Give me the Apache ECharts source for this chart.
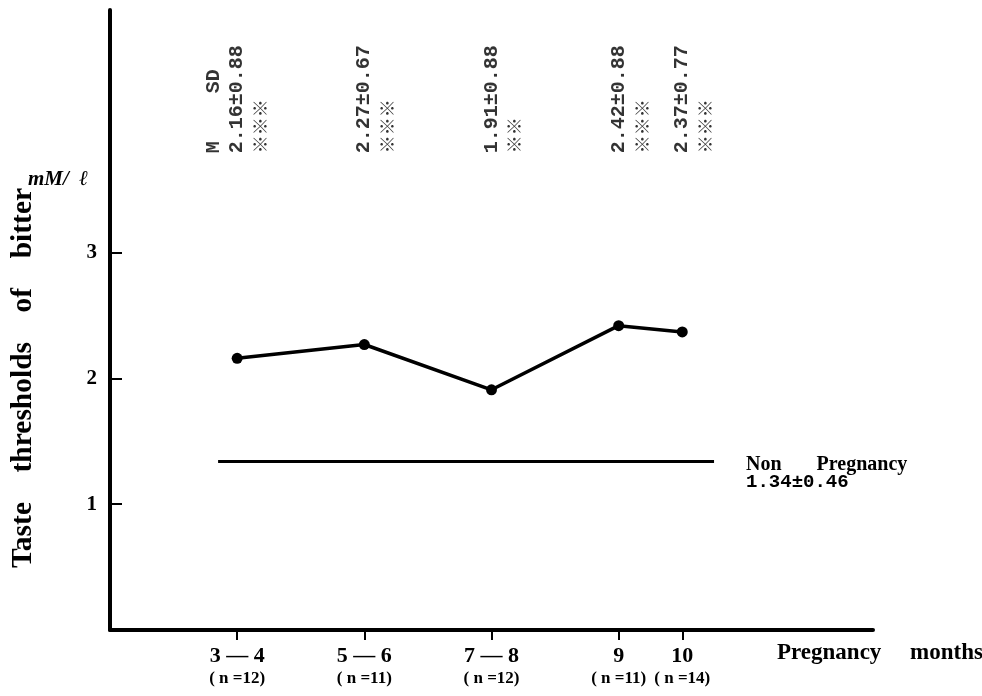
<!DOCTYPE html>
<html>
<head>
<meta charset="utf-8">
<script src="https://cdn.jsdelivr.net/npm/echarts@6/dist/echarts.min.js"></script>
<style>html,body{margin:0;padding:0;background:#fff;}#c{width:982px;height:696px;}</style>
</head>
<body>
<div id="c"></div>
<script>
// ---- data ----
var monthLabels = ['3 — 4', '5 — 6', '7 — 8', '9', '10'];
var monthPos = [3.5, 5.5, 7.5, 9.5, 10.5];
var sampleN = [12, 11, 12, 11, 14];
var meanValues = [2.16, 2.27, 1.91, 2.42, 2.37];
var sdValues = [0.88, 0.67, 0.88, 0.88, 0.77];
var sigMarks = ['※※※', '※※※', '※※', '※※※', '※※※'];
var nonPregMean = 1.34;
var nonPregSD = 0.46;
var yTicks = [1, 2, 3];

var serif = '"Liberation Serif", "DejaVu Serif", serif';
var mono = '"Liberation Mono", "Noto Sans CJK JP", monospace';

var chart = echarts.init(document.getElementById('c'), null, {renderer: 'canvas'});

var lineData = monthPos.map(function (x, i) { return [x, meanValues[i]]; });
var annotData = monthPos.map(function (x, i) { return [x, 3.79, i]; });

var option = {
  animation: false,
  backgroundColor: '#fff',
  grid: {left: 110, right: 109, top: 10, bottom: 66, containLabel: false},
  xAxis: {
    type: 'value', min: 1.5, max: 13.5,
    splitLine: {show: false},
    axisLine: {show: true, onZero: false, lineStyle: {color: '#000', width: 4}},
    axisTick: {show: true, inside: false, length: 10, lineStyle: {color: '#000', width: 2}, customValues: monthPos},
    axisLabel: {
      show: true, margin: 14, customValues: monthPos,
      formatter: function (v) {
        var i = monthPos.indexOf(v);
        if (i < 0) return '';
        return '{m|' + monthLabels[i] + '}\n{n|( n =' + sampleN[i] + ')}';
      },
      rich: {
        m: {fontFamily: serif, fontWeight: 'bold', fontSize: 22, lineHeight: 24, color: '#000'},
        n: {fontFamily: serif, fontWeight: 'bold', fontSize: 17, lineHeight: 22, color: '#000'}
      }
    }
  },
  yAxis: {
    type: 'value', min: 0, max: 4.93,
    splitLine: {show: false},
    axisLine: {show: true, lineStyle: {color: '#000', width: 4}},
    axisTick: {show: true, inside: true, length: 12, lineStyle: {color: '#000', width: 2}, customValues: yTicks},
    axisLabel: {show: true, margin: 13, customValues: yTicks, fontFamily: serif, fontWeight: 'bold', fontSize: 21, color: '#000'}
  },
  graphic: [
    {type: 'text', x: 23, y: 378, rotation: Math.PI / 2,
     style: {text: 'Taste    thresholds    of    bitter', font: 'bold 29.5px ' + serif, fill: '#000', align: 'center', verticalAlign: 'middle'}},
    {type: 'text', x: 28, y: 180,
     style: {text: 'mM/  ℓ', font: 'italic bold 21px ' + serif, fill: '#000', align: 'left', verticalAlign: 'middle'}},
    {type: 'text', x: 777, y: 653,
     style: {text: 'Pregnancy     months', font: 'bold 23px ' + serif, fill: '#000', align: 'left', verticalAlign: 'middle'}}
  ],
  series: [
    {
      type: 'line', data: lineData,
      symbol: 'circle', symbolSize: 11,
      lineStyle: {color: '#000', width: 3.5},
      itemStyle: {color: '#000'},
      z: 5,
      markLine: {
        silent: true, symbol: 'none',
        lineStyle: {color: '#000', width: 3, type: 'solid'},
        label: {
          show: true, position: 'end', distance: 32,
          padding: [24, 0, 0, 0],
          formatter: function () { return '{t|Non       Pregnancy}\n{v|' + nonPregMean.toFixed(2) + '±' + nonPregSD.toFixed(2) + '}'; },
          align: 'left',
          rich: {
            t: {fontFamily: serif, fontWeight: 'bold', fontSize: 20, lineHeight: 17, color: '#000'},
            v: {fontFamily: mono, fontWeight: 'bold', fontSize: 19, lineHeight: 17, color: '#000'}
          }
        },
        data: [[{coord: [3.2, nonPregMean]}, {coord: [11.0, nonPregMean]}]]
      }
    },
    {
      type: 'scatter', data: annotData, symbolSize: 0, silent: true,
      label: {
        show: true, position: 'inside', rotate: 90,
        align: 'left', verticalAlign: 'middle',
        formatter: function (p) {
          var i = p.data[2];
          var first = i === 0 ? '{a|M    SD}' : '{a| }';
          return first + '\n{a|' + meanValues[i].toFixed(2) + '±' + sdValues[i].toFixed(2) + '}\n{s|' + sigMarks[i] + '}';
        },
        rich: {
          a: {fontFamily: mono, fontWeight: 'bold', fontSize: 20, lineHeight: 23, color: '#000'},
          s: {fontFamily: '"Noto Sans CJK JP", sans-serif', fontWeight: 'bold', fontSize: 18, lineHeight: 23, color: '#000'}
        }
      }
    }
  ]
};
chart.setOption(option);
</script>
</body>
</html>
